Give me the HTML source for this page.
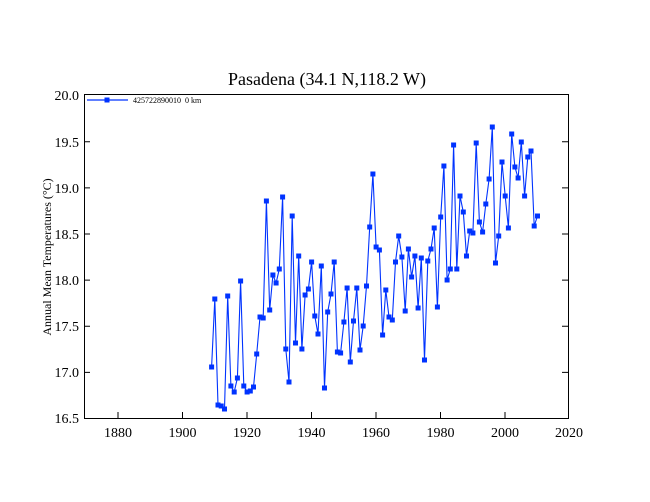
<!DOCTYPE html>
<html><head><meta charset="utf-8"><style>body{margin:0;background:#fff}svg{display:block}</style></head><body>
<svg width="650" height="502" xmlns="http://www.w3.org/2000/svg" font-family="'Liberation Serif',serif">
<defs><marker id="m" markerUnits="userSpaceOnUse" markerWidth="6" markerHeight="6" refX="3" refY="3" viewBox="0 0 6 6"><rect x="0.5" y="0.5" width="5" height="5" fill="#0033ff"/></marker></defs>
<rect width="650" height="502" fill="#fff"/>
<text x="327" y="85" font-size="18" text-anchor="middle">Pasadena (34.1 N,118.2 W)</text>
<rect x="84.5" y="94.5" width="484" height="324" fill="none" stroke="#000" stroke-width="1"/>
<g stroke="#000" stroke-width="1">
<path d="M118 418v-6M182.5 418v-6M247 418v-6M311.5 418v-6M376 418v-6M440.5 418v-6M505 418v-6"/>
<path d="M84 372.4h6M84 326.3h6M84 280.1h6M84 234h6M84 187.9h6M84 141.7h6M568 372.4h-6M568 326.3h-6M568 280.1h-6M568 234h-6M568 187.9h-6M568 141.7h-6"/>
</g>
<g font-size="14" text-anchor="middle">
<text x="118" y="437">1880</text><text x="182.5" y="437">1900</text><text x="247" y="437">1920</text><text x="311.5" y="437">1940</text><text x="376" y="437">1960</text><text x="440.5" y="437">1980</text><text x="505" y="437">2000</text><text x="569" y="437">2020</text>
</g>
<g font-size="14" text-anchor="end">
<text x="79" y="423">16.5</text><text x="79" y="377">17.0</text><text x="79" y="331">17.5</text><text x="79" y="285">18.0</text><text x="79" y="239">18.5</text><text x="79" y="193">19.0</text><text x="79" y="147">19.5</text><text x="79" y="100">20.0</text>
</g>
<text transform="translate(51,257) rotate(-90)" font-size="12" text-anchor="middle">Annual Mean Temperatures (°C)</text>
<line x1="87" y1="100" x2="128" y2="100" stroke="#0033ff" stroke-width="1.2"/>
<rect x="104.5" y="97.5" width="5" height="5" fill="#0033ff"/>
<text x="133" y="103" font-size="8">425722890010</text><text x="185" y="103" font-size="8">0 km</text>
<polyline fill="none" stroke="#0033ff" stroke-width="1.1" marker-start="url(#m)" marker-mid="url(#m)" marker-end="url(#m)" points="211.6,367 214.8,299 218.0,405 221.2,406 224.5,409 227.7,296 230.9,386 234.2,392 237.4,378 240.6,281 243.8,386 247.1,392 250.3,391 253.5,387 256.7,354 260.0,317 263.2,318 266.4,201 269.7,310 272.9,275 276.1,283 279.3,269 282.6,197 285.8,349 289.0,382 292.2,216 295.5,343 298.7,256 301.9,349 305.1,295 308.4,289 311.6,262 314.8,316 318.0,334 321.3,266 324.5,388 327.7,312 331.0,294 334.2,262 337.4,352 340.6,353 343.9,322 347.1,288 350.3,362 353.5,321 356.8,288 360.0,350 363.2,326 366.5,286 369.7,227 372.9,174 376.1,247 379.4,250 382.6,335 385.8,290 389.0,317 392.3,320 395.5,262 398.7,236 401.9,257 405.2,311 408.4,249 411.6,277 414.9,256 418.1,308 421.3,258 424.5,360 427.8,261 431.0,249 434.2,228 437.4,307 440.7,217 443.9,166 447.1,280 450.3,269 453.6,145 456.8,269 460.0,196 463.3,212 466.5,256 469.7,231 472.9,233 476.2,143 479.4,222 482.6,232 485.8,204 489.1,179 492.3,127 495.5,263 498.7,236 502.0,162 505.2,196 508.4,228 511.7,134 514.9,167 518.1,178 521.3,142 524.6,196 527.8,157 531.0,151 534.2,226 537.5,216"/>
</svg>
</body></html>
